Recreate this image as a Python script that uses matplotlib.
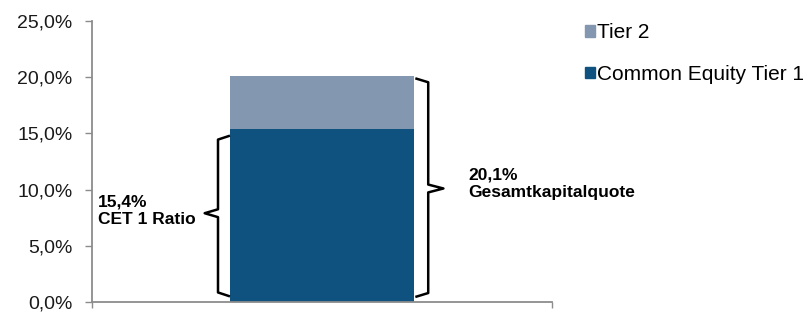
import matplotlib.pyplot as plt
from matplotlib.patches import Patch

plt.rcParams['font.family'] = ['Liberation Sans', 'DejaVu Sans']

# data
categories = ['']
cet1 = [15.4]
tier2 = [4.7]
total = [20.1]
series_names = ['Tier 2', 'Common Equity Tier 1']
yticks = [0, 5, 10, 15, 20, 25]

COL_CET1 = '#0F527F'
COL_T2 = '#8497B0'
GRAY = '#8C8C8C'


def brace(ax, x, x_hook, x_tip, y0, y1, y_tip, d=0.35):
    xs = [x_hook, x, x, x_tip, x, x, x_hook]
    ys = [y1, y1 - d, y_tip + d, y_tip, y_tip - d, y0 + d, y0]
    ax.plot(xs, ys, color='black', lw=1.8, solid_joinstyle='round',
            solid_capstyle='butt', clip_on=False)


fig = plt.figure(figsize=(8.06, 3.12), dpi=100)
ax = fig.add_axes([0.1141, 0.032, 0.5707, 0.9007])

x = range(len(categories))
ax.bar(x, cet1, width=0.4, color=COL_CET1, label=series_names[1])
ax.bar(x, tier2, width=0.4, bottom=cet1, color=COL_T2, label=series_names[0])

ax.set_xlim(-0.5, 0.5)
ax.set_ylim(0, 25)
ax.set_yticks(yticks)
ax.set_yticklabels(['{:.1f}%'.format(v).replace('.', ',') for v in yticks],
                   fontsize=14, color='#1a1a1a')
ax.set_xticks([-0.5, 0.5])
ax.set_xticklabels([])
ax.tick_params(axis='y', direction='out', length=5, width=1, color=GRAY, pad=9)
ax.tick_params(axis='x', direction='out', length=4, width=1, color=GRAY)

for s in ['top', 'right']:
    ax.spines[s].set_visible(False)
for s in ['left', 'bottom']:
    ax.spines[s].set_color(GRAY)
    ax.spines[s].set_linewidth(1.3)

# braces
brace(ax, -0.226, -0.2, -0.255, 0.5, cet1[0] - 0.6, 7.9)
brace(ax, 0.231, 0.203, 0.264, 0.45, total[0] - 0.2, 10.1)

ax.text(-0.487, 8.1, '{:.1f}%\nCET 1 Ratio'.format(cet1[0]).replace('.', ','),
        fontsize=12.5, fontweight='bold', va='center', ha='left', linespacing=1.2)
ax.text(0.318, 10.5, '{:.1f}%\nGesamtkapitalquote'.format(total[0]).replace('.', ','),
        fontsize=12.5, fontweight='bold', va='center', ha='left', linespacing=1.2)

handles = [Patch(color=COL_T2), Patch(color=COL_CET1)]
fig.legend(handles, series_names, loc='upper left', bbox_to_anchor=(0.726, 0.925),
           frameon=False, fontsize=15, handlelength=0.45, handleheight=0.45,
           handletextpad=0.1, labelspacing=1.1, borderaxespad=0, borderpad=0)

fig.savefig('out.png', dpi=100)
